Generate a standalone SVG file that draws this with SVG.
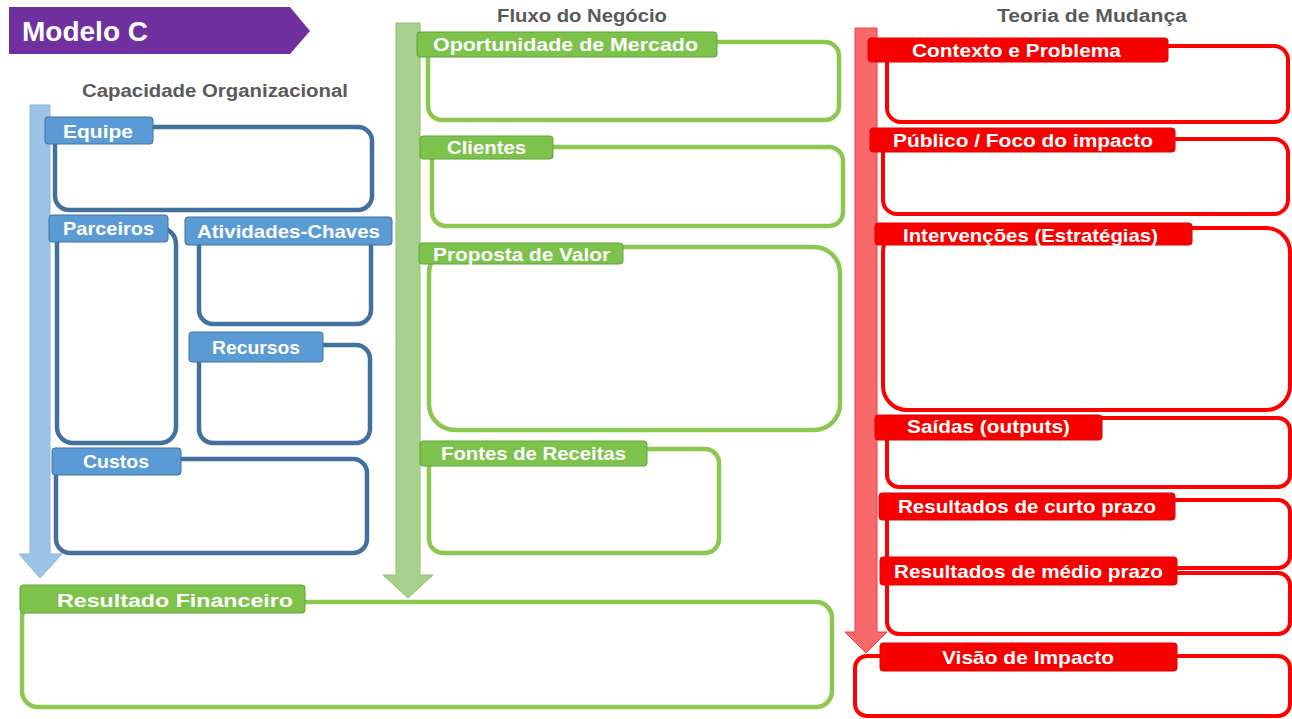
<svg xmlns="http://www.w3.org/2000/svg" width="1292" height="719" viewBox="0 0 1292 719">
<style>
text{font-family:"Liberation Sans",Arial,sans-serif;font-weight:bold}
.lbl{font-size:19px;fill:#ffffff}
.hdr{font-size:18px;fill:#5a5a5a}
.bbox{fill:none;stroke:#41719c;stroke-width:4.5}
.btab{fill:#5b9bd5;stroke:#41719c;stroke-width:1}
.gbox{fill:none;stroke:#8cc84f;stroke-width:4.5}
.gtab{fill:#7dc24b;stroke:#5ea33a;stroke-width:1}
.rbox{fill:none;stroke:#ff0000;stroke-width:4}
.rtab{fill:#f80000;stroke:#e00000;stroke-width:1}
</style>
<rect width="1292" height="719" fill="#ffffff"/>

<g id="title">
<polygon points="9,7 290,7 310,31 290,54 9,54" fill="#7030a0"/>
<text x="22" y="41" font-size="27" fill="#ffffff" textLength="126" lengthAdjust="spacingAndGlyphs">Modelo C</text>
</g>

<g id="headers">
<text class="hdr" x="82" y="97" textLength="266" lengthAdjust="spacingAndGlyphs">Capacidade Organizacional</text>
<text class="hdr" x="497" y="22" textLength="170" lengthAdjust="spacingAndGlyphs">Fluxo do Negócio</text>
<text class="hdr" x="997" y="22" textLength="190" lengthAdjust="spacingAndGlyphs">Teoria de Mudança</text>
</g>

<g id="connectors">
<polygon id="arrow-blue" points="30,105 50,105 50,554 62,554 40,578 19,554 30,554" fill="#9dc3e6" stroke="#8fb3dc" stroke-width="1"/>
<polygon id="arrow-green" points="396,23 420,23 420,575 433,575 408,598 383,575 396,575" fill="#a9d18e" stroke="#8fc070" stroke-width="1"/>
<polygon id="arrow-red" points="855,28 877,28 877,632 887,632 866,653 845,632 855,632" fill="#f8696b" stroke="#f04040" stroke-width="1"/>
</g>

<g id="equipe">
<rect class="bbox" x="55" y="127" width="317" height="83" rx="14"/>
<rect class="btab" x="45" y="117" width="108" height="27" rx="3"/>
<text class="lbl" x="63" y="138" textLength="70" lengthAdjust="spacingAndGlyphs">Equipe</text>
</g>
<g id="parceiros">
<rect class="bbox" x="57" y="228" width="119" height="215" rx="16"/>
<rect class="btab" x="49" y="215" width="119" height="27" rx="3"/>
<text class="lbl" x="63" y="235" textLength="91" lengthAdjust="spacingAndGlyphs">Parceiros</text>
</g>
<g id="atividades">
<rect class="bbox" x="199" y="231" width="172" height="93" rx="14"/>
<rect class="btab" x="185" y="217" width="207" height="28" rx="3"/>
<text class="lbl" x="197" y="238" textLength="183" lengthAdjust="spacingAndGlyphs">Atividades-Chaves</text>
</g>
<g id="recursos">
<rect class="bbox" x="199" y="345" width="171" height="98" rx="14"/>
<rect class="btab" x="189" y="332" width="134" height="30" rx="3"/>
<text class="lbl" x="212" y="354" textLength="88" lengthAdjust="spacingAndGlyphs">Recursos</text>
</g>
<g id="custos">
<rect class="bbox" x="56" y="459" width="311" height="94" rx="14"/>
<rect class="btab" x="52" y="448" width="129" height="27" rx="3"/>
<text class="lbl" x="83" y="468" textLength="66" lengthAdjust="spacingAndGlyphs">Custos</text>
</g>

<g id="oportunidade">
<rect class="gbox" x="428" y="42" width="411" height="78" rx="14"/>
<rect class="gtab" x="417" y="32" width="300" height="25" rx="3"/>
<text class="lbl" x="433" y="51" textLength="265" lengthAdjust="spacingAndGlyphs">Oportunidade de Mercado</text>
</g>
<g id="clientes">
<rect class="gbox" x="432" y="147" width="411" height="79" rx="14"/>
<rect class="gtab" x="420" y="136" width="133" height="23" rx="3"/>
<text class="lbl" x="447" y="154" textLength="79" lengthAdjust="spacingAndGlyphs">Clientes</text>
</g>
<g id="proposta">
<rect class="gbox" x="429" y="247" width="411" height="183" rx="26"/>
<rect class="gtab" x="419" y="243" width="204" height="21" rx="3"/>
<text class="lbl" x="433" y="261" textLength="177" lengthAdjust="spacingAndGlyphs">Proposta de Valor</text>
</g>
<g id="fontes">
<rect class="gbox" x="429" y="449" width="290" height="104" rx="14"/>
<rect class="gtab" x="420" y="441" width="227" height="25" rx="3"/>
<text class="lbl" x="441" y="460" textLength="185" lengthAdjust="spacingAndGlyphs">Fontes de Receitas</text>
</g>
<g id="resultado-financeiro">
<rect class="gbox" x="22" y="602" width="810" height="105" rx="16"/>
<rect class="gtab" x="20" y="585" width="285" height="28" rx="3"/>
<text class="lbl" x="57" y="607" textLength="236" lengthAdjust="spacingAndGlyphs">Resultado Financeiro</text>
</g>

<g id="contexto">
<rect class="rbox" x="887" y="46" width="401" height="76" rx="14"/>
<rect class="rtab" x="868" y="38" width="300" height="24" rx="3"/>
<text class="lbl" x="912" y="57" textLength="209" lengthAdjust="spacingAndGlyphs">Contexto e Problema</text>
</g>
<g id="publico">
<rect class="rbox" x="883" y="139" width="405" height="75" rx="14"/>
<rect class="rtab" x="870" y="128" width="305" height="24" rx="3"/>
<text class="lbl" x="893" y="147" textLength="260" lengthAdjust="spacingAndGlyphs">Público / Foco do impacto</text>
</g>
<g id="intervencoes">
<rect class="rbox" x="883" y="228" width="407" height="182" rx="24"/>
<rect class="rtab" x="875" y="223" width="317" height="22" rx="3"/>
<text class="lbl" x="903" y="242" textLength="255" lengthAdjust="spacingAndGlyphs">Intervenções (Estratégias)</text>
</g>
<g id="saidas">
<rect class="rbox" x="887" y="418" width="403" height="69" rx="12"/>
<rect class="rtab" x="875" y="415" width="227" height="25" rx="3"/>
<text class="lbl" x="907" y="433" textLength="163" lengthAdjust="spacingAndGlyphs">Saídas (outputs)</text>
</g>
<g id="curto-prazo">
<rect class="rbox" x="887" y="500" width="403" height="68" rx="12"/>
<rect class="rtab" x="879" y="493" width="296" height="27" rx="3"/>
<text class="lbl" x="898" y="513" textLength="258" lengthAdjust="spacingAndGlyphs">Resultados de curto prazo</text>
</g>
<g id="medio-prazo">
<rect class="rbox" x="887" y="573" width="403" height="61" rx="12"/>
<rect class="rtab" x="880" y="557" width="297" height="28" rx="3"/>
<text class="lbl" x="894" y="578" textLength="269" lengthAdjust="spacingAndGlyphs">Resultados de médio prazo</text>
</g>
<g id="visao">
<rect class="rbox" x="855" y="656" width="435" height="60" rx="12"/>
<rect class="rtab" x="880" y="643" width="297" height="28" rx="3"/>
<text class="lbl" x="942" y="664" textLength="172" lengthAdjust="spacingAndGlyphs">Visão de Impacto</text>
</g>
</svg>
